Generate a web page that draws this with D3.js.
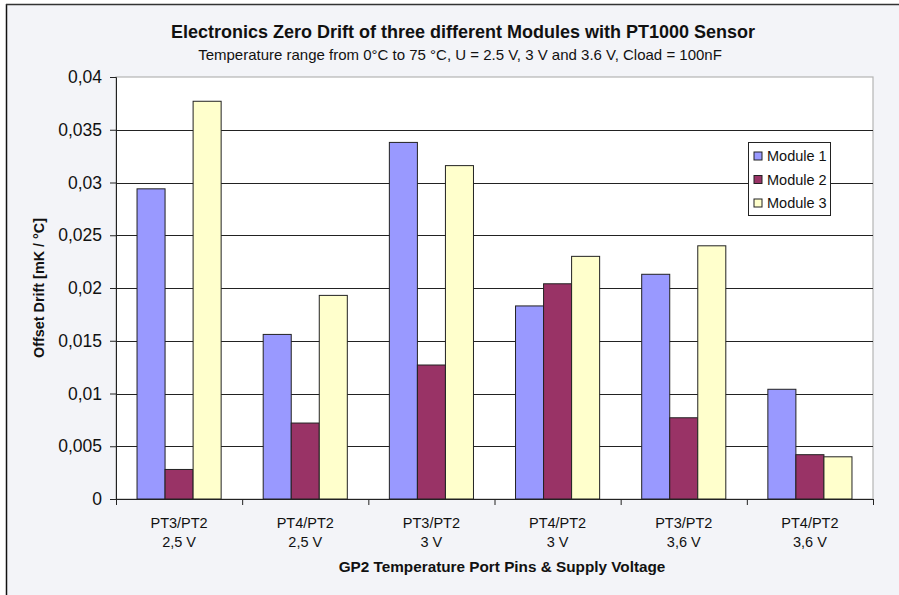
<!DOCTYPE html>
<html>
<head>
<meta charset="utf-8">
<script src="https://cdn.jsdelivr.net/npm/d3@7"></script>
<style>
  body { margin: 0; background: #fff; }
  svg { display: block; font-family: Arial, "Liberation Sans", sans-serif; }
</style>
</head>
<body>
<svg width="899" height="595"></svg>
<script>
var categories = [
  ["PT3/PT2", "2,5 V"], ["PT4/PT2", "2,5 V"], ["PT3/PT2", "3 V"],
  ["PT4/PT2", "3 V"], ["PT3/PT2", "3,6 V"], ["PT4/PT2", "3,6 V"]
];
var seriesNames = ["Module 1", "Module 2", "Module 3"];
var module1 = [0.0294, 0.0156, 0.0338, 0.0183, 0.0213, 0.0104];
var module2 = [0.0028, 0.0072, 0.0127, 0.0204, 0.0077, 0.0042];
var module3 = [0.0377, 0.0193, 0.0316, 0.0230, 0.0240, 0.0040];
var yTicks = [0, 0.005, 0.01, 0.015, 0.02, 0.025, 0.03, 0.035, 0.04];
var colors = ["#9999ff", "#993366", "#ffffcc"];

var series = [module1, module2, module3];

var svg = d3.select("svg"),
  plotL = 116, plotR = 873, plotT = 77, plotB = 499;

// chart background with the dark frame on the left and top
svg.append("rect").attr("x", 6).attr("y", 4).attr("width", 899).attr("height", 600)
  .attr("fill", "#f3f4f8");
svg.append("line").attr("x1", 6.5).attr("x2", 6.5).attr("y1", 4).attr("y2", 595)
  .attr("stroke", "#111").attr("stroke-width", 1.5);
svg.append("line").attr("x1", 6).attr("x2", 899).attr("y1", 4.5).attr("y2", 4.5)
  .attr("stroke", "#333").attr("stroke-width", 1.5);

var x0 = d3.scaleBand().domain(d3.range(categories.length)).range([plotL, plotR]);
var x1 = d3.scaleBand().domain(d3.range(series.length))
  .range([x0.bandwidth() / 6, x0.bandwidth() * 5 / 6]);
var y = d3.scaleLinear().domain([0, 0.04]).range([plotB, plotT]);

svg.append("rect").attr("x", plotL).attr("y", plotT)
  .attr("width", plotR - plotL).attr("height", plotB - plotT)
  .attr("fill", "#fff").attr("stroke", "#b4b4b4").attr("stroke-width", 1.2);

// gridlines
svg.append("g").selectAll("line").data(yTicks.slice(1, -1)).enter().append("line")
  .attr("x1", plotL).attr("x2", plotR)
  .attr("y1", function(d) { return Math.round(y(d)) + 0.5; })
  .attr("y2", function(d) { return Math.round(y(d)) + 0.5; })
  .attr("stroke", "#222").attr("stroke-width", 1);

// bars
var groups = svg.append("g").selectAll("g").data(categories).enter().append("g")
  .attr("transform", function(d, i) { return "translate(" + x0(i) + ",0)"; });
groups.selectAll("rect")
  .data(function(d, i) { return series.map(function(s, j) { return { j: j, v: s[i] }; }); })
  .enter().append("rect")
  .attr("x", function(d) { return x1(d.j); })
  .attr("width", x1.bandwidth())
  .attr("y", function(d) { return y(d.v); })
  .attr("height", function(d) { return plotB - y(d.v); })
  .attr("fill", function(d) { return colors[d.j]; })
  .attr("stroke", "#222").attr("stroke-width", 1);

// y axis
var yAxis = svg.append("g").attr("transform", "translate(" + plotL + ",0)")
  .call(d3.axisLeft(y).tickValues(yTicks).tickSize(6).tickPadding(8)
    .tickFormat(function(d) { return d3.format("")(d).replace(".", ","); }));
yAxis.select(".domain").attr("stroke", "#222");
yAxis.selectAll(".tick line").attr("stroke", "#222");
yAxis.selectAll("text").attr("font-size", "17.5px").attr("fill", "#111")
  .attr("font-family", "Arial, 'Liberation Sans', sans-serif");

// x axis
var xTickScale = d3.scaleLinear().domain([0, categories.length]).range([plotL, plotR]);
var xAxis = svg.append("g").attr("transform", "translate(0," + plotB + ")")
  .call(d3.axisBottom(xTickScale).tickValues(d3.range(categories.length + 1))
    .tickSize(6).tickSizeOuter(0).tickFormat(""));
xAxis.select(".domain").attr("stroke", "#222");
xAxis.selectAll(".tick line").attr("stroke", "#222");

var xl = svg.append("g").selectAll("text").data(categories).enter().append("text")
  .attr("x", function(d, i) { return x0(i) + x0.bandwidth() / 2; })
  .attr("text-anchor", "middle").attr("font-size", "14.5px").attr("fill", "#111");
xl.append("tspan").attr("y", 528).attr("x", function(d, i) { return x0(i) + x0.bandwidth() / 2; })
  .text(function(d) { return d[0]; });
xl.append("tspan").attr("y", 547).attr("x", function(d, i) { return x0(i) + x0.bandwidth() / 2; })
  .text(function(d) { return d[1]; });

// titles
svg.append("text").attr("x", 463).attr("y", 38).attr("text-anchor", "middle")
  .attr("font-size", "18px").attr("font-weight", "bold").attr("fill", "#111")
  .text("Electronics Zero Drift of three different Modules with PT1000 Sensor");
svg.append("text").attr("x", 460).attr("y", 60).attr("text-anchor", "middle")
  .attr("font-size", "15px").attr("fill", "#111")
  .text("Temperature range from 0°C to 75 °C, U = 2.5 V, 3 V and 3.6 V, Cload = 100nF");
svg.append("text").attr("x", 502).attr("y", 572).attr("text-anchor", "middle")
  .attr("font-size", "15.3px").attr("font-weight", "bold").attr("fill", "#111")
  .text("GP2 Temperature Port Pins & Supply Voltage");
svg.append("text").attr("transform", "translate(44,288) rotate(-90)")
  .attr("text-anchor", "middle").attr("font-size", "14.4px").attr("font-weight", "bold")
  .attr("fill", "#111").text("Offset Drift [mK / °C]");

// legend
var legend = svg.append("g").attr("transform", "translate(748,142)");
legend.append("rect").attr("x", 0.5).attr("y", 0.5).attr("width", 82).attr("height", 73)
  .attr("fill", "#fff").attr("stroke", "#222");
var li = legend.selectAll("g.item").data(seriesNames).enter().append("g")
  .attr("transform", function(d, i) { return "translate(0," + (14 + i * 23.5) + ")"; });
li.append("rect").attr("x", 6).attr("y", -4).attr("width", 8).attr("height", 8)
  .attr("fill", function(d, i) { return colors[i]; }).attr("stroke", "#222");
li.append("text").attr("x", 19).attr("y", 5).attr("font-size", "14.5px").attr("fill", "#111")
  .text(function(d) { return d; });
</script>
</body>
</html>
